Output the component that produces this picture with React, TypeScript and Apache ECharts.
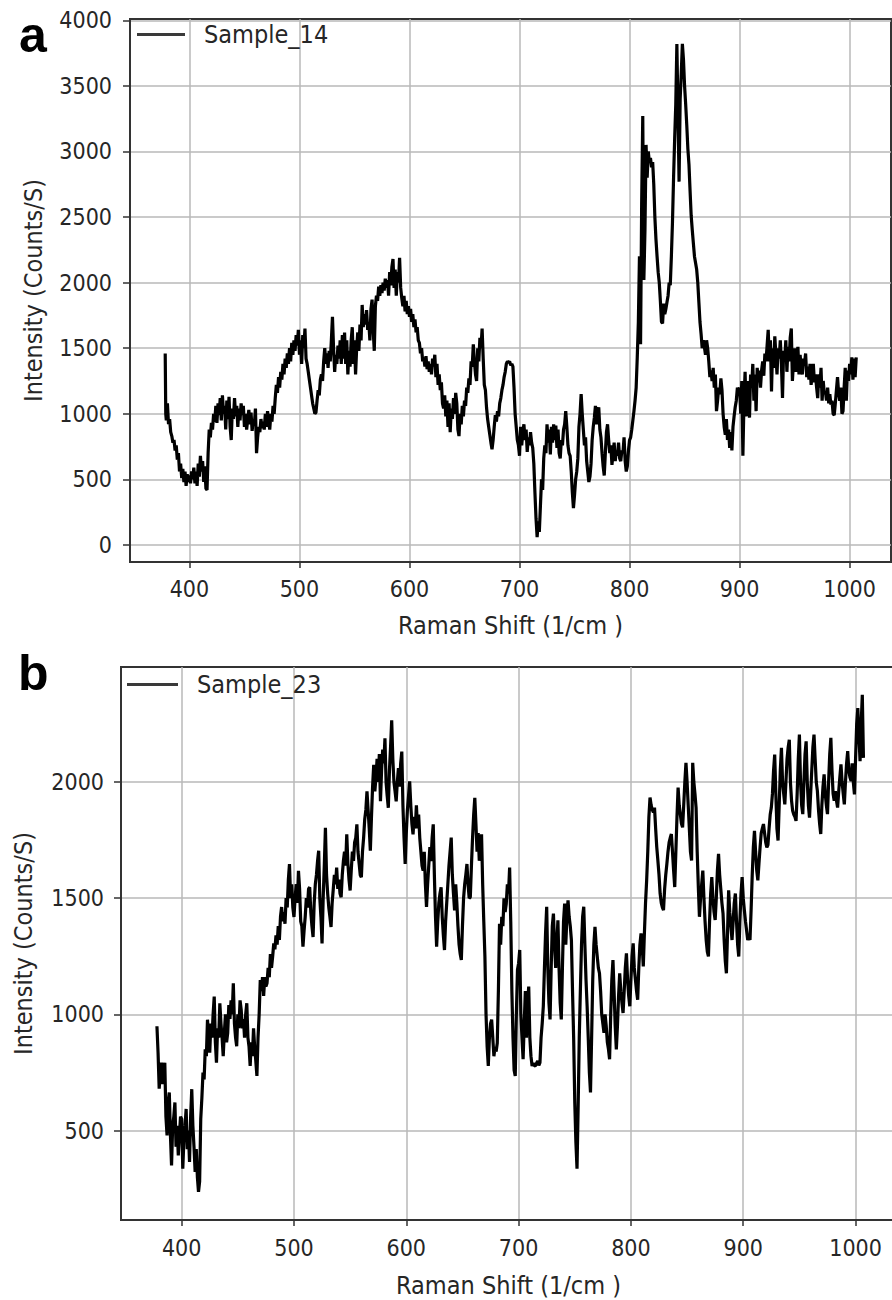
import React, { useEffect, useRef } from "react";
import * as echarts from "echarts";

// Raman spectrum, panel a (Raman shift 1/cm, intensity counts/s)
const sample14: [number, number][] = [
[378,1460],[378.5,1000],[379,950],[380,1080],[381,920],[382,960],[383,860],[384,830],[385,780],[386,800],[387,720],[388,760],[389,650],[390,700],
[391,560],[392,620],[393,510],[394,580],[395,480],[396,560],[397,450],[398,540],[399,480],[400,530],[401,470],[402,560],[403,500],[404,590],
[405,470],[406,560],[407,450],[408,620],[409,520],[410,680],[411,560],[412,640],[413,480],[414,600],[415,430],[416,420],[417,700],[418,880],
[419,820],[420,930],[421,880],[422,1000],[423,940],[424,1060],[425,930],[426,1080],[427,990],[428,1120],[429,950],[430,1140],[431,1000],[432,1060],
[433,880],[434,1100],[435,960],[436,1130],[437,900],[438,800],[439,1040],[440,960],[441,1120],[442,980],[443,1060],[444,900],[445,1040],[446,950],
[447,1080],[448,990],[449,1060],[450,900],[451,1000],[452,880],[453,960],[454,1030],[455,920],[456,1010],[457,870],[458,960],[459,920],[460,1040],
[461,700],[462,820],[463,900],[464,860],[465,960],[466,890],[467,940],[468,880],[469,1000],[470,900],[471,1020],[472,940],[473,880],[474,1000],
[475,940],[476,1060],[477,1000],[478,1120],[479,1220],[480,1160],[481,1280],[482,1200],[483,1320],[484,1260],[485,1380],[486,1300],[487,1420],[488,1350],
[489,1460],[490,1380],[491,1500],[492,1400],[493,1540],[494,1450],[495,1560],[496,1480],[497,1600],[498,1520],[499,1640],[500,1450],[501,1560],[502,1380],
[503,1600],[504,1500],[505,1650],[506,1420],[507,1380],[508,1320],[509,1260],[510,1200],[511,1140],[512,1080],[513,1040],[514,1000],[515,1010],[516,1100],
[517,1180],[518,1140],[519,1260],[520,1300],[521,1250],[522,1400],[523,1500],[524,1380],[525,1460],[526,1350],[527,1480],[528,1400],[529,1560],[530,1740],
[531,1500],[532,1320],[533,1450],[534,1380],[535,1520],[536,1420],[537,1560],[538,1380],[539,1600],[540,1420],[541,1620],[542,1380],[543,1560],[544,1300],
[545,1480],[546,1360],[547,1560],[548,1660],[549,1380],[550,1560],[551,1300],[552,1500],[553,1620],[554,1480],[555,1680],[556,1560],[557,1830],[558,1660],
[559,1760],[560,1680],[561,1790],[562,1640],[563,1700],[564,1560],[565,1800],[566,1870],[567,1640],[568,1480],[569,1820],[570,1900],[571,1860],[572,1970],
[573,1900],[574,1980],[575,1920],[576,2000],[577,1940],[578,2030],[579,1960],[580,2020],[581,1900],[582,2080],[583,1980],[584,2120],[585,2180],[586,1960],
[587,2100],[588,1900],[589,2080],[590,2000],[591,2190],[592,1960],[593,1880],[594,1820],[595,1900],[596,1780],[597,1860],[598,1760],[599,1820],[600,1740],
[601,1800],[602,1700],[603,1760],[604,1660],[605,1720],[606,1620],[607,1660],[608,1560],[609,1540],[610,1460],[611,1500],[612,1400],[613,1430],[614,1360],
[615,1440],[616,1340],[617,1400],[618,1320],[619,1380],[620,1300],[621,1420],[622,1360],[623,1450],[624,1280],[625,1380],[626,1220],[627,1300],[628,1180],
[629,1240],[630,1080],[631,1040],[632,1140],[633,980],[634,1100],[635,900],[636,1080],[637,860],[638,1040],[639,960],[640,1120],[641,1000],[642,1160],
[643,1080],[644,880],[645,830],[646,1000],[647,920],[648,1060],[649,980],[650,1100],[651,1060],[652,1200],[653,1160],[654,1270],[655,1220],[656,1400],
[657,1360],[658,1530],[659,1400],[660,1300],[661,1250],[662,1500],[663,1400],[664,1580],[665,1500],[666,1650],[667,1420],[668,1220],[669,1180],[670,1050],
[671,960],[672,900],[673,840],[674,780],[675,730],[676,800],[677,900],[678,990],[679,940],[680,1020],[681,980],[682,1080],[683,1120],[684,1180],
[685,1220],[686,1280],[687,1320],[688,1380],[689,1400],[690,1390],[691,1400],[692,1370],[693,1380],[694,1360],[695,1200],[696,1000],[697,900],[698,800],
[699,760],[700,680],[701,900],[702,760],[703,860],[704,920],[705,800],[706,880],[707,710],[708,820],[709,760],[710,860],[711,780],[712,740],
[713,620],[714,400],[715,200],[716,60],[717,180],[718,100],[719,300],[720,500],[721,420],[722,660],[723,760],[724,700],[725,920],[726,780],
[727,880],[728,690],[729,900],[730,780],[731,920],[732,800],[733,910],[734,740],[735,880],[736,700],[737,660],[738,800],[739,760],[740,880],
[741,920],[742,1020],[743,900],[744,760],[745,700],[746,680],[747,560],[748,400],[749,280],[750,380],[751,500],[752,560],[753,660],[754,900],
[755,1000],[756,1150],[757,1000],[758,880],[759,760],[760,820],[761,640],[762,560],[763,480],[764,520],[765,620],[766,800],[767,900],[768,970],
[769,1060],[770,920],[771,1000],[772,1050],[773,880],[774,820],[775,700],[776,600],[777,530],[778,700],[779,860],[780,920],[781,800],[782,700],
[783,760],[784,610],[785,700],[786,780],[787,640],[788,720],[789,680],[790,780],[791,660],[792,640],[793,720],[794,700],[795,820],[796,640],
[797,560],[798,600],[799,720],[800,800],[801,820],[802,880],[803,950],[804,1020],[805,1100],[806,1200],[807,1430],[808,1700],[809,2200],[810,1530],
[811,2600],[812,3270],[813,2020],[814,2400],[815,3050],[816,2800],[817,3000],[818,2920],[819,2950],[820,2880],[821,2920],[822,2750],[823,2500],[824,2330],
[825,2200],[826,2080],[827,2000],[828,1860],[829,1700],[830,1690],[831,1840],[832,1760],[833,1800],[834,1850],[835,1900],[836,2000],[837,1980],[838,2200],
[839,2460],[840,2800],[841,3100],[842,3360],[843,3820],[844,3300],[845,2770],[846,3400],[847,3600],[848,3820],[849,3700],[850,3500],[851,3360],[852,3200],
[853,3020],[854,2900],[855,2700],[856,2510],[857,2400],[858,2300],[859,2200],[860,2150],[861,2100],[862,2000],[863,1850],[864,1700],[865,1610],[866,1500],
[867,1560],[868,1510],[869,1450],[870,1560],[871,1500],[872,1400],[873,1280],[874,1330],[875,1250],[876,1350],[877,1200],[878,1300],[879,1020],[880,1100],
[881,1200],[882,1150],[883,1270],[884,1180],[885,1000],[886,900],[887,840],[888,960],[889,800],[890,880],[891,740],[892,860],[893,720],[894,900],
[895,980],[896,1050],[897,1100],[898,1200],[899,1150],[900,1200],[901,1000],[902,1250],[903,680],[904,1100],[905,1320],[906,980],[907,1250],[908,1100],
[909,970],[910,1300],[911,1200],[912,1380],[913,1100],[914,1300],[915,1020],[916,1350],[917,1240],[918,1330],[919,1200],[920,1330],[921,1400],[922,1290],
[923,1460],[924,1400],[925,1520],[926,1640],[927,1400],[928,1560],[929,1170],[930,1500],[931,1350],[932,1590],[933,1450],[934,1300],[935,1500],[936,1420],
[937,1560],[938,1380],[939,1120],[940,1480],[941,1400],[942,1560],[943,1320],[944,1510],[945,1400],[946,1580],[947,1650],[948,1250],[949,1400],[950,1500],
[951,1320],[952,1450],[953,1510],[954,1300],[955,1450],[956,1350],[957,1300],[958,1420],[959,1380],[960,1460],[961,1280],[962,1360],[963,1260],[964,1380],
[965,1220],[966,1300],[967,1380],[968,1240],[969,1300],[970,1200],[971,1120],[972,1300],[973,1200],[974,1350],[975,1100],[976,1250],[977,1150],[978,1170],
[979,1100],[980,1200],[981,1080],[982,1150],[983,1070],[984,1100],[985,1000],[986,990],[987,1080],[988,1180],[989,1280],[990,1160],[991,1100],[992,1200],
[993,1000],[994,1020],[995,1200],[996,1350],[997,1100],[998,1330],[999,1250],[1000,1380],[1001,1300],[1002,1430],[1003,1260],[1004,1420],[1005,1280],[1006,1430]
];

// Raman spectrum, panel b
const sample23: [number, number][] = [
[378,949],[379,835],[380,680],[381,760],[382,792],[383,700],[384,760],[385,792],[386,560],[387,479],[388,620],[389,664],[390,480],[391,350],
[392,520],[393,560],[394,621],[395,430],[396,520],[397,393],[398,480],[399,560],[400,550],[401,336],[402,460],[403,520],[404,593],[405,420],
[406,500],[407,365],[408,560],[409,678],[410,520],[411,430],[412,322],[413,420],[414,300],[415,236],[416,280],[417,550],[418,640],[419,749],
[420,720],[421,850],[422,820],[423,977],[424,900],[425,835],[426,960],[427,900],[428,1000],[429,1077],[430,880],[431,792],[432,940],[433,900],
[434,1048],[435,960],[436,900],[437,820],[438,920],[439,1000],[440,880],[441,920],[442,1040],[443,980],[444,1060],[445,1000],[446,1134],[447,960],
[448,900],[449,863],[450,1000],[451,940],[452,1060],[453,1020],[454,940],[455,980],[456,900],[457,1000],[458,1048],[459,900],[460,860],[461,778],
[462,880],[463,820],[464,940],[465,860],[466,800],[467,735],[468,900],[469,1000],[470,1148],[471,1100],[472,1160],[473,1080],[474,1160],[475,1120],
[476,1134],[477,1200],[478,1160],[479,1260],[480,1200],[481,1248],[482,1305],[483,1280],[484,1340],[485,1300],[486,1380],[487,1320],[488,1420],[489,1462],
[490,1400],[491,1440],[492,1390],[493,1500],[494,1460],[495,1580],[496,1647],[497,1500],[498,1560],[499,1460],[500,1419],[501,1500],[502,1560],[503,1480],
[504,1618],[505,1540],[506,1400],[507,1380],[508,1291],[509,1360],[510,1420],[511,1500],[512,1460],[513,1540],[514,1547],[515,1440],[516,1380],[517,1333],
[518,1480],[519,1560],[520,1600],[521,1660],[522,1704],[523,1500],[524,1420],[525,1305],[526,1500],[527,1640],[528,1803],[529,1600],[530,1520],[531,1460],
[532,1420],[533,1376],[534,1480],[535,1540],[536,1600],[537,1560],[538,1632],[539,1540],[540,1580],[541,1520],[542,1504],[543,1600],[544,1660],[545,1700],
[546,1640],[547,1775],[548,1650],[549,1580],[550,1533],[551,1620],[552,1700],[553,1660],[554,1740],[555,1760],[556,1818],[557,1700],[558,1650],[559,1600],
[560,1590],[561,1700],[562,1760],[563,1840],[564,1880],[565,1960],[566,1880],[567,1800],[568,1704],[569,1850],[570,1980],[571,2074],[572,1960],[573,2020],
[574,2100],[575,2000],[576,2120],[577,1917],[578,2050],[579,2140],[580,2080],[581,2188],[582,2000],[583,1940],[584,1889],[585,2050],[586,2150],[587,2266],
[588,2100],[589,2000],[590,1960],[591,1917],[592,2000],[593,2060],[594,1980],[595,2080],[596,2131],[597,1900],[598,1760],[599,1647],[600,1780],[601,1880],
[602,1940],[603,2003],[604,1900],[605,1820],[606,1775],[607,1850],[608,1800],[609,1900],[610,1800],[611,1860],[612,1760],[613,1700],[614,1640],[615,1618],
[616,1700],[617,1560],[618,1462],[619,1560],[620,1640],[621,1720],[622,1660],[623,1760],[624,1818],[625,1600],[626,1420],[627,1291],[628,1400],[629,1480],
[630,1520],[631,1547],[632,1420],[633,1340],[634,1277],[635,1400],[636,1480],[637,1560],[638,1640],[639,1700],[640,1761],[641,1600],[642,1520],[643,1447],
[644,1560],[645,1480],[646,1380],[647,1300],[648,1260],[649,1234],[650,1380],[651,1500],[652,1560],[653,1600],[654,1647],[655,1560],[656,1500],[657,1504],
[658,1640],[659,1760],[660,1860],[661,1932],[662,1820],[663,1700],[664,1780],[665,1661],[666,1700],[667,1775],[668,1560],[669,1400],[670,1248],[671,1000],
[672,860],[673,778],[674,900],[675,960],[676,977],[677,900],[678,820],[679,860],[680,840],[681,877],[682,1100],[683,1390],[684,1300],[685,1420],
[686,1380],[687,1500],[688,1440],[689,1476],[690,1560],[691,1520],[692,1632],[693,1400],[694,1100],[695,900],[696,760],[697,735],[698,1000],[699,1192],
[700,1220],[701,1277],[702,1000],[703,900],[704,807],[705,960],[706,1100],[707,900],[708,1050],[709,1120],[710,900],[711,820],[712,778],[713,790],
[714,780],[715,778],[716,790],[717,800],[718,780],[719,792],[720,900],[721,960],[722,1035],[723,1200],[724,1350],[725,1463],[726,1200],[727,1050],
[728,978],[729,1200],[730,1380],[731,1434],[732,1300],[733,1200],[734,1300],[735,1405],[736,1200],[737,1050],[738,978],[739,1200],[740,1400],[741,1477],
[742,1300],[743,1420],[744,1491],[745,1420],[746,1380],[747,1320],[748,1100],[749,900],[750,621],[751,450],[752,336],[753,600],[754,900],[755,1106],
[756,1300],[757,1420],[758,1463],[759,1300],[760,1150],[761,1035],[762,900],[763,750],[764,664],[765,900],[766,1150],[767,1300],[768,1377],[769,1300],
[770,1250],[771,1200],[772,1177],[773,1100],[774,1000],[775,960],[776,921],[777,1000],[778,950],[779,880],[780,850],[781,807],[782,1000],[783,1150],
[784,1234],[785,1100],[786,950],[787,849],[788,950],[789,1080],[790,1177],[791,1100],[792,1050],[793,1006],[794,1100],[795,1200],[796,1263],[797,1150],
[798,1080],[799,1035],[800,1150],[801,1250],[802,1306],[803,1200],[804,1150],[805,1100],[806,1063],[807,1200],[808,1300],[809,1348],[810,1300],[811,1206],
[812,1350],[813,1480],[814,1577],[815,1700],[816,1850],[817,1933],[818,1900],[819,1880],[820,1870],[821,1890],[822,1800],[823,1720],[824,1662],[825,1600],
[826,1520],[827,1480],[828,1460],[829,1448],[830,1540],[831,1600],[832,1648],[833,1700],[834,1740],[835,1760],[836,1776],[837,1700],[838,1620],[839,1548],
[840,1700],[841,1850],[842,1976],[843,1900],[844,1860],[845,1820],[846,1805],[847,1900],[848,2000],[849,2083],[850,2000],[851,1900],[852,1800],[853,1700],
[854,1662],[855,2083],[856,2000],[857,1950],[858,1890],[859,1700],[860,1550],[861,1420],[862,1500],[863,1560],[864,1619],[865,1500],[866,1400],[867,1320],
[868,1270],[869,1249],[870,1400],[871,1520],[872,1591],[873,1500],[874,1440],[875,1406],[876,1500],[877,1620],[878,1691],[879,1600],[880,1540],[881,1480],
[882,1434],[883,1320],[884,1230],[885,1177],[886,1350],[887,1534],[888,1440],[889,1380],[890,1320],[891,1400],[892,1480],[893,1520],[894,1400],[895,1300],
[896,1249],[897,1400],[898,1520],[899,1591],[900,1500],[901,1448],[902,1400],[903,1360],[904,1320],[905,1340],[906,1320],[907,1450],[908,1600],[909,1720],
[910,1790],[911,1700],[912,1620],[913,1577],[914,1650],[915,1720],[916,1780],[917,1800],[918,1819],[919,1780],[920,1740],[921,1719],[922,1730],[923,1800],
[924,1860],[925,1890],[926,1950],[927,2050],[928,2118],[929,1950],[930,1800],[931,1748],[932,1900],[933,2050],[934,2147],[935,2000],[936,1950],[937,1904],
[938,2000],[939,2100],[940,2150],[941,2182],[942,2000],[943,1920],[944,1876],[945,1860],[946,1850],[947,1833],[948,1950],[949,2100],[950,2204],[951,2000],
[952,1900],[953,1862],[954,2000],[955,2120],[956,2175],[957,2000],[958,1900],[959,1847],[960,1950],[961,2050],[962,2150],[963,2204],[964,2100],[965,2000],
[966,1962],[967,1880],[968,1820],[969,1776],[970,1900],[971,1980],[972,2033],[973,1950],[974,1900],[975,1862],[976,2000],[977,2120],[978,2190],[979,2050],
[980,1950],[981,1919],[982,1960],[983,1920],[984,1890],[985,1960],[986,2020],[987,2076],[988,2000],[989,1950],[990,1904],[991,2000],[992,2080],[993,2133],
[994,2050],[995,2020],[996,2004],[997,2080],[998,2000],[999,1947],[1000,2100],[1001,2250],[1002,2318],[1003,2200],[1004,2090],[1005,2250],[1006,2375],[1007,2104]
];

const seriesNames = ["Sample_14", "Sample_23"];
const panelLabels = ["a", "b"];
const xTicks = [400, 500, 600, 700, 800, 900, 1000];
const yTicksA = [0, 500, 1000, 1500, 2000, 2500, 3000, 3500, 4000];
const yTicksB = [500, 1000, 1500, 2000];
const xTitle = "Raman Shift (1/cm )";
const yTitle = "Intensity (Counts/S)";

const FONT = "'DejaVu Sans Condensed', 'DejaVu Sans', sans-serif";
const TXT = "#262626";
const GRIDC = "#b8b8b8";
const SPINE = "#333333";

const plain = (v: number) => String(v);

function xAxis(gridIndex: number, min: number, max: number, nameGap: number, margin: number) {
  return {
    type: "value", gridIndex, min, max, minInterval: 100, maxInterval: 100,
    name: xTitle, nameLocation: "middle", nameGap,
    nameTextStyle: { fontFamily: FONT, fontSize: 25, color: TXT, lineHeight: 25 },
    axisLine: { show: true, onZero: false, lineStyle: { color: SPINE, width: 2 } },
    axisTick: { show: true, inside: false, length: 6, customValues: xTicks, lineStyle: { color: SPINE, width: 1.5 } },
    axisLabel: { customValues: xTicks, formatter: plain, margin, fontFamily: FONT, fontSize: 23, color: TXT },
    splitLine: { show: true, lineStyle: { color: GRIDC, width: 1.5 } },
  };
}

function yAxis(gridIndex: number, min: number, max: number, ticks: number[], nameGap: number, margin: number) {
  return {
    type: "value", gridIndex, min, max, minInterval: 500, maxInterval: 500,
    name: yTitle, nameLocation: "middle", nameGap, nameRotate: 90,
    nameTextStyle: { fontFamily: FONT, fontSize: 25, color: TXT, lineHeight: 25 },
    axisLine: { show: true, onZero: false, lineStyle: { color: SPINE, width: 2 } },
    axisTick: { show: true, inside: false, length: 7, customValues: ticks, lineStyle: { color: SPINE, width: 1.5 } },
    axisLabel: { customValues: ticks, formatter: plain, margin, fontFamily: FONT, fontSize: 23, color: TXT },
    splitLine: { show: true, lineStyle: { color: GRIDC, width: 1.5 } },
  };
}

export default function App() {
  const ref = useRef<HTMLDivElement>(null);
  useEffect(() => {
    const chart = echarts.init(ref.current!, null, { renderer: "svg" });
    const option: any = {
      animation: false,
      backgroundColor: "#ffffff",
      grid: [
        { left: 130, top: 19, width: 761, height: 543, show: true, borderColor: SPINE, borderWidth: 2, backgroundColor: "transparent" },
        { left: 121, top: 667, width: 775, height: 553, show: true, borderColor: SPINE, borderWidth: 2, backgroundColor: "transparent" },
      ],
      xAxis: [xAxis(0, 346, 1037.6, 51, 15), xAxis(1, 346, 1036, 53, 16)],
      yAxis: [yAxis(0, -130, 4010, yTicksA, 84, 18), yAxis(1, 115, 2495, yTicksB, 85, 17)],
      legend: [
        {
          data: [{ name: seriesNames[0], itemStyle: { color: "#3a3a3a" } }],
          left: 137, top: 22, padding: 0, icon: "rect", itemWidth: 48, itemHeight: 3,
          textStyle: { fontFamily: FONT, fontSize: 25, color: TXT, padding: [0, 0, 0, 14] },
        },
        {
          data: [{ name: seriesNames[1], itemStyle: { color: "#3a3a3a" } }],
          left: 127, top: 672, padding: 0, icon: "rect", itemWidth: 51, itemHeight: 3,
          textStyle: { fontFamily: FONT, fontSize: 25, color: TXT, padding: [0, 0, 0, 14] },
        },
      ],
      graphic: [
        { type: "text", x: 19, y: 35, style: { text: panelLabels[0], font: "bold 50px 'Liberation Sans', Arial, sans-serif", fill: "#000", verticalAlign: "middle" } },
        { type: "text", x: 18, y: 673, style: { text: panelLabels[1], font: "bold 50px 'Liberation Sans', Arial, sans-serif", fill: "#000", verticalAlign: "middle" } },
      ],
      series: [
        {
          name: seriesNames[0], type: "line", xAxisIndex: 0, yAxisIndex: 0, data: sample14,
          showSymbol: false, symbol: "none", clip: true, lineStyle: { color: "#000", width: 3.2 }, itemStyle: { color: "#000" },
        },
        {
          name: seriesNames[1], type: "line", xAxisIndex: 1, yAxisIndex: 1, data: sample23,
          showSymbol: false, symbol: "none", clip: true, lineStyle: { color: "#000", width: 3.2 }, itemStyle: { color: "#000" },
        },
      ],
    };
    chart.setOption(option);
    return () => chart.dispose();
  }, []);
  return (
    <div style={{ position: "absolute", left: 0, top: 0, width: 892, height: 1300, overflow: "hidden", background: "#fff" }}>
      <div ref={ref} style={{ width: 900, height: 1300 }} />
    </div>
  );
}
